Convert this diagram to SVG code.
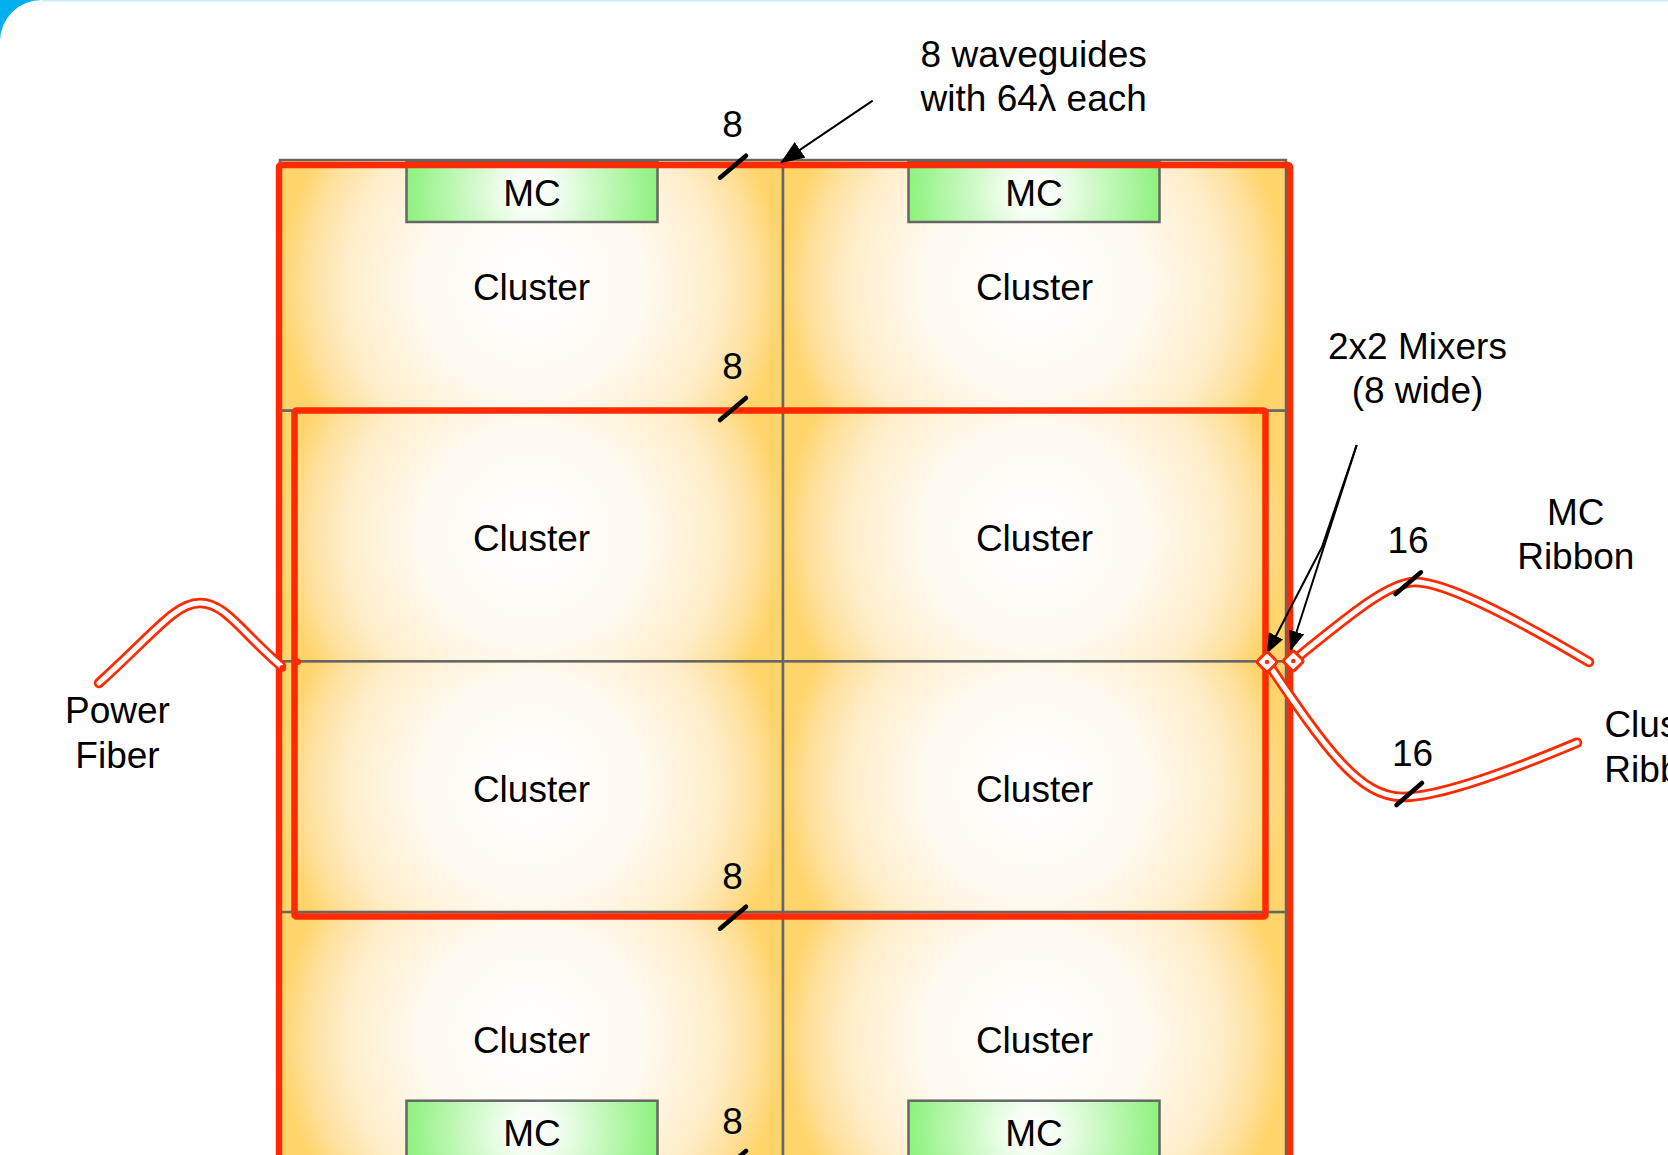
<svg xmlns="http://www.w3.org/2000/svg" width="1668" height="1155" viewBox="0 0 1668 1155">
  <defs>
    <radialGradient id="gCell" cx="0.5" cy="0.5" r="0.5" gradientTransform="translate(0.5,0.5) scale(1,2.006) translate(-0.5,-0.5)">
      <stop offset="0" stop-color="#ffffff"/>
      <stop offset="0.45" stop-color="#fffaf0"/>
      <stop offset="0.75" stop-color="#ffedc8"/>
      <stop offset="0.9" stop-color="#ffe09a"/>
      <stop offset="1" stop-color="#ffd46a"/>
    </radialGradient>
    <radialGradient id="gMC" cx="0.5" cy="0.5" r="0.5" gradientTransform="translate(0.5,0.5) scale(1,4.2) translate(-0.5,-0.5)">
      <stop offset="0" stop-color="#ffffff"/>
      <stop offset="0.2" stop-color="#f4fef2"/>
      <stop offset="1" stop-color="#8ef27e"/>
    </radialGradient>
    <marker id="arrowL" viewBox="0 0 24 19" refX="23" refY="9.5" markerWidth="24" markerHeight="19" markerUnits="userSpaceOnUse" orient="auto">
      <path d="M0,0 L24,9.5 L0,19 Z" fill="#000"/>
    </marker>
    <marker id="arrowS" viewBox="0 0 20 16" refX="19" refY="8" markerWidth="20" markerHeight="16" markerUnits="userSpaceOnUse" orient="auto">
      <path d="M0,0 L20,8 L0,16 Z" fill="#000"/>
    </marker>
  </defs>
  <style>
    text { font-family: "Liberation Sans", Arial, Helvetica, sans-serif; font-size: 37px; fill: #000; text-anchor: middle; }
    .cell { fill: url(#gCell); stroke: #666; stroke-width: 2.5; }
    .mc { fill: url(#gMC); stroke: #666; stroke-width: 2.5; }
    .wg { fill: none; stroke: #ff2a00; stroke-width: 6.5; stroke-linejoin: round; }
    .tick { stroke: #000; stroke-width: 4.5; stroke-linecap: round; }
    .tubeO { fill: none; stroke: #ff2a00; stroke-width: 10.5; stroke-linecap: round; }
    .tubeI { fill: none; stroke: #fff; stroke-width: 5; stroke-linecap: round; }
    .lead { fill: none; stroke: #000; stroke-width: 2; }
    .mix { fill: #fff; stroke: #ff2a00; stroke-width: 3; }
  </style>

  <!-- window frame -->
  <rect x="0" y="0" width="1668" height="1155" fill="#fff"/>
  <path d="M0,0 H42 A42,41 0 0 0 0,41 Z" fill="#00aff0"/>
  <rect x="42" y="0" width="1626" height="1.5" fill="#c9effc"/>

  <!-- cluster nodes -->
  <g id="cluster-1-1"><rect class="cell" x="280" y="160" width="503" height="250.7"/><text x="531.5" y="300.3">Cluster</text></g>
  <g id="cluster-1-2"><rect class="cell" x="783" y="160" width="503" height="250.7"/><text x="1034.5" y="300.3">Cluster</text></g>
  <g id="cluster-2-1"><rect class="cell" x="280" y="410.7" width="503" height="250.7"/><text x="531.5" y="551">Cluster</text></g>
  <g id="cluster-2-2"><rect class="cell" x="783" y="410.7" width="503" height="250.7"/><text x="1034.5" y="551">Cluster</text></g>
  <g id="cluster-3-1"><rect class="cell" x="280" y="661.4" width="503" height="250.7"/><text x="531.5" y="801.7">Cluster</text></g>
  <g id="cluster-3-2"><rect class="cell" x="783" y="661.4" width="503" height="250.7"/><text x="1034.5" y="801.7">Cluster</text></g>
  <g id="cluster-4-1"><rect class="cell" x="280" y="912.1" width="503" height="250.7"/><text x="531.5" y="1052.5">Cluster</text></g>
  <g id="cluster-4-2"><rect class="cell" x="783" y="912.1" width="503" height="250.7"/><text x="1034.5" y="1052.5">Cluster</text></g>

  <!-- memory controllers -->
  <g id="mc-top-left"><rect class="mc" x="406.5" y="162" width="251" height="60"/><text x="532" y="206">MC</text></g>
  <g id="mc-top-right"><rect class="mc" x="908.5" y="162" width="251" height="60"/><text x="1034" y="206">MC</text></g>
  <g id="mc-bottom-left"><rect class="mc" x="406.5" y="1100.7" width="251" height="60"/><text x="532" y="1146">MC</text></g>
  <g id="mc-bottom-right"><rect class="mc" x="908.5" y="1100.7" width="251" height="60"/><text x="1034" y="1146">MC</text></g>

  <!-- connectors -->
  <g id="connectors">
    <!-- waveguide loops -->
    <rect class="wg" x="279" y="165" width="1011" height="1200" rx="2"/>
    <rect class="wg" x="294.5" y="410.5" width="971" height="506" rx="2"/>

    <!-- power fiber -->
    <path class="tubeO" d="M99,683 C154,633.5 175,603 200,603 C225,603 241,631.6 281,666"/>
    <path class="tubeI" d="M99,683 C154,633.5 175,603 200,603 C225,603 241,631.6 281,666"/>
    <circle cx="282.7" cy="668.3" r="3.4" fill="#ff2a00"/>
    <circle cx="297.7" cy="661.7" r="3.2" fill="#ff2a00"/>

    <!-- MC ribbon -->
    <path class="tubeO" d="M1293,661 C1353,612 1390,582 1415,582 C1445,582 1509,614.8 1589,662"/>
    <path class="tubeI" d="M1293,661 C1353,612 1390,582 1415,582 C1445,582 1509,614.8 1589,662"/>

    <!-- cluster ribbon -->
    <path class="tubeO" d="M1267,662 C1327,751 1360,797 1403,797 C1440,797 1517,768 1577,742.7"/>
    <path class="tubeI" d="M1267,662 C1327,751 1360,797 1403,797 C1440,797 1517,768 1577,742.7"/>

    <!-- bus width ticks -->
    <line class="tick" x1="720" y1="177.7" x2="746" y2="155.7"/>
    <line class="tick" x1="720" y1="420" x2="746" y2="398"/>
    <line class="tick" x1="720" y1="928.7" x2="746" y2="906.7"/>
    <line class="tick" x1="720" y1="1173" x2="746" y2="1151"/>
    <line class="tick" x1="1395.5" y1="594" x2="1421" y2="572.3"/>
    <line class="tick" x1="1396.5" y1="805" x2="1422" y2="783"/>

    <!-- annotation leaders -->
    <line class="lead" x1="872.7" y1="100.7" x2="781" y2="162.7" marker-end="url(#arrowL)"/>
    <polyline class="lead" points="1356.7,445 1322,547 1267.3,652.7" marker-end="url(#arrowS)"/>
    <line class="lead" x1="1356.7" y1="445" x2="1290.7" y2="650" marker-end="url(#arrowS)"/>
  </g>

  <!-- mixers -->
  <g id="mixer-left">
    <rect class="mix" x="-7.5" y="-7.5" width="15" height="15" rx="2.5" transform="translate(1267,662) rotate(45)"/>
    <circle cx="1267" cy="662" r="2.3" fill="#ff2a00"/>
  </g>
  <g id="mixer-right">
    <rect class="mix" x="-7.5" y="-7.5" width="15" height="15" rx="2.5" transform="translate(1293.3,661) rotate(45)"/>
    <circle cx="1293.3" cy="661" r="2.3" fill="#ff2a00"/>
  </g>

  <!-- labels -->
  <g id="labels">
    <text x="732.5" y="136.7">8</text>
    <text x="732.5" y="379">8</text>
    <text x="732.5" y="889">8</text>
    <text x="732.5" y="1134">8</text>
    <text x="1408" y="553.3">16</text>
    <text x="1412.5" y="766">16</text>
    <text x="1033.7" y="66.7">8 waveguides</text>
    <text x="1033.7" y="111.3">with 64λ each</text>
    <text x="1417.5" y="359">2x2 Mixers</text>
    <text x="1417.5" y="403.3">(8 wide)</text>
    <text x="1575.8" y="525">MC</text>
    <text x="1575.8" y="569.3">Ribbon</text>
    <text x="1663" y="736.7">Cluster</text>
    <text x="1663" y="781.7">Ribbon</text>
    <text x="117.5" y="723.3">Power</text>
    <text x="117.5" y="768.3">Fiber</text>
  </g>
</svg>
